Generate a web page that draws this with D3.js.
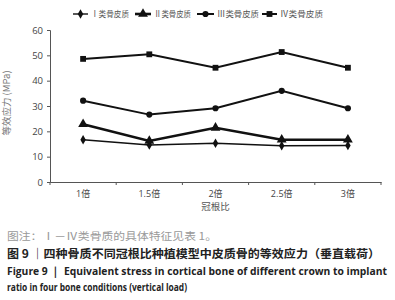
<!DOCTYPE html>
<html>
<head>
<meta charset="utf-8">
<script src="https://cdn.jsdelivr.net/npm/d3@7"></script>
<style>
  body { margin:0; background:#fff; }
  svg { display:block; }
</style>
</head>
<body>
<div id="chart"></div>
<script>
/* data */
var ratios = ["1倍", "1.5倍", "2倍", "2.5倍", "3倍"];
var seriesNames = ["Ⅰ类骨皮质", "Ⅱ类骨皮质", "Ⅲ类骨皮质", "Ⅳ类骨皮质"];
var bone1 = [16.7, 14.6, 15.3, 14.3, 14.4];
var bone2 = [22.8, 16.2, 21.4, 16.7, 16.7];
var bone3 = [32.1, 26.6, 29.1, 36.0, 29.1];
var bone4 = [48.6, 50.4, 45.1, 51.3, 45.1];
var yTicks = [0, 10, 20, 30, 40, 50, 60];

var W = 395, H = 300;
var margin = { top:30, right:14, bottom:118, left:50 };
var width = W - margin.left - margin.right;
var height = H - margin.top - margin.bottom;

var svg = d3.select("#chart").append("svg")
  .attr("width", W)
  .attr("height", H);

var g = svg.append("g")
  .attr("transform", "translate(" + margin.left + "," + margin.top + ")");

var x = d3.scaleBand().domain(ratios).range([0, width]);
var y = d3.scaleLinear().domain([0, 60]).range([height, 0]);

var tickFont = "'Open Sans', 'Noto Sans CJK SC', sans-serif";

// axes
var xAxis = g.append("g")
  .attr("transform", "translate(0," + height + ")")
  .call(d3.axisBottom(x).tickSize(0).tickPadding(9));
xAxis.select(".domain").attr("stroke", "#555");
xAxis.selectAll("text").attr("font-size", "9px").attr("fill", "#444").attr("font-family", tickFont);

// tick marks on band boundaries
g.selectAll(".xb").data(d3.range(ratios.length + 1)).enter()
  .append("line")
  .attr("x1", function(i){ return i * x.step(); })
  .attr("x2", function(i){ return i * x.step(); })
  .attr("y1", height).attr("y2", height + 3)
  .attr("stroke", "#555");

var yAxis = g.append("g")
  .call(d3.axisLeft(y).tickValues(yTicks).tickSize(3).tickPadding(4));
yAxis.select(".domain").attr("stroke", "#555");
yAxis.selectAll(".tick line").attr("stroke", "#555");
yAxis.selectAll("text").attr("font-size", "9.5px").attr("fill", "#444").attr("font-family", tickFont);

// axis labels
g.append("text")
  .attr("text-anchor", "middle")
  .attr("x", x.step() * 2.5)
  .attr("y", height + 28)
  .attr("font-size", "9.5px")
  .attr("fill", "#555")
  .attr("font-family", "'Noto Sans CJK SC', sans-serif")
  .text("冠根比");

g.append("text")
  .attr("text-anchor", "middle")
  .attr("transform", "rotate(-90)")
  .attr("x", -height * 0.48)
  .attr("y", -40)
  .attr("font-size", "9.5px")
  .attr("fill", "#777")
  .attr("font-family", "'Noto Sans CJK SC', sans-serif")
  .text("等效应力 (MPa)");

// series
var series = [
  { name: seriesNames[0], values: bone1, sym: d3.symbolDiamond, size: 26, lw: 1.4 },
  { name: seriesNames[1], values: bone2, sym: d3.symbolTriangle, size: 42, lw: 2.6 },
  { name: seriesNames[2], values: bone3, sym: d3.symbolCircle, size: 30, lw: 2 },
  { name: seriesNames[3], values: bone4, sym: d3.symbolSquare, size: 34, lw: 2 }
];

var line = d3.line()
  .x(function(d, i){ return x(ratios[i]) + x.bandwidth() / 2; })
  .y(function(d){ return y(d); });

series.forEach(function(s){
  g.append("path")
    .attr("d", line(s.values))
    .attr("fill", "none")
    .attr("stroke", "#111")
    .attr("stroke-width", s.lw);
  g.selectAll(null).data(s.values).enter()
    .append("path")
    .attr("d", d3.symbol().type(s.sym).size(s.size))
    .attr("transform", function(d, i){
      return "translate(" + (x(ratios[i]) + x.bandwidth() / 2) + "," + y(d) + ")";
    })
    .attr("fill", "#111");
});

// legend
var legendX = [73, 135, 197, 262];
var legendW = [15, 16, 17, 15];
var legendTextW = [38, 37, 42, 43];
var leg = svg.append("g").attr("transform", "translate(0,14)");
series.forEach(function(s, i){
  leg.append("line")
    .attr("x1", legendX[i]).attr("x2", legendX[i] + legendW[i])
    .attr("y1", 0).attr("y2", 0)
    .attr("stroke", "#111").attr("stroke-width", s.lw);
  leg.append("path")
    .attr("d", d3.symbol().type(s.sym).size(s.size))
    .attr("transform", "translate(" + (legendX[i] + legendW[i] / 2) + ",0)")
    .attr("fill", "#111");
  leg.append("text")
    .attr("x", legendX[i] + legendW[i] + 3)
    .attr("y", 3)
    .attr("font-size", "8.5px")
    .attr("fill", "#555")
    .attr("font-family", "'Noto Sans CJK SC', serif")
    .attr("textLength", legendTextW[i]).attr("lengthAdjust", "spacingAndGlyphs")
    .text(s.name);
});

// captions
var capFont = "'Noto Sans CJK SC', sans-serif";
var enFont = "'Open Sans', sans-serif";
svg.append("text")
  .attr("x", 7).attr("y", 240)
  .attr("font-size", "10.5px").attr("fill", "#999")
  .attr("font-family", capFont)
  .attr("textLength", 210).attr("lengthAdjust", "spacingAndGlyphs")
  .text("图注：Ⅰ－Ⅳ类骨质的具体特征见表 1。");
svg.append("text")
  .attr("x", 7).attr("y", 257.5)
  .attr("font-size", "11.5px").attr("font-weight", "bold").attr("fill", "#222")
  .attr("font-family", capFont)
  .attr("textLength", 373).attr("lengthAdjust", "spacingAndGlyphs")
  .text("图 9 ｜四种骨质不同冠根比种植模型中皮质骨的等效应力（垂直载荷）");
svg.append("text")
  .attr("x", 7).attr("y", 274.5)
  .attr("font-size", "10.5px").attr("font-weight", "bold").attr("fill", "#222")
  .attr("font-family", enFont)
  .attr("textLength", 380).attr("lengthAdjust", "spacingAndGlyphs")
  .text("Figure 9 ｜ Equivalent stress in cortical bone of different crown to implant");
svg.append("text")
  .attr("x", 7).attr("y", 291)
  .attr("font-size", "11px").attr("font-weight", "bold").attr("fill", "#222")
  .attr("font-family", enFont)
  .attr("textLength", 180).attr("lengthAdjust", "spacingAndGlyphs")
  .text("ratio in four bone conditions (vertical load)");
</script>
</body>
</html>
